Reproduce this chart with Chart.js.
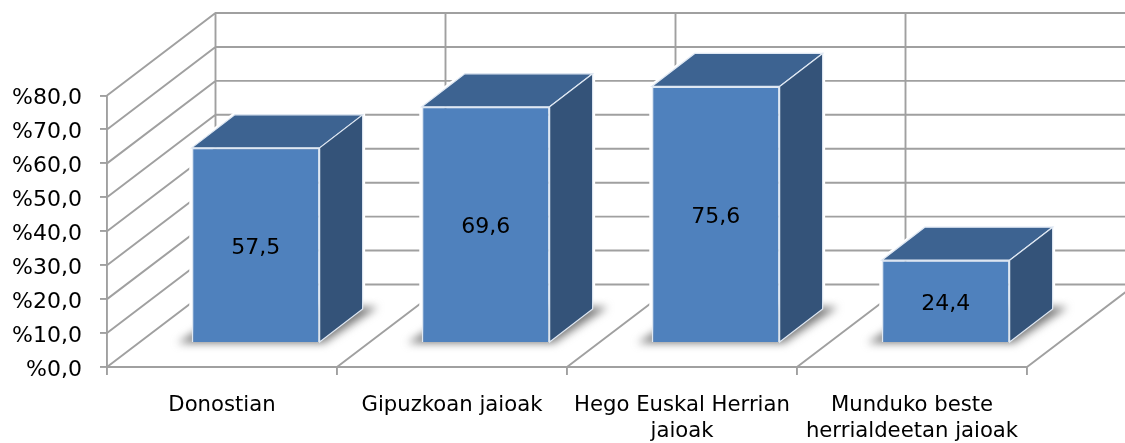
<!DOCTYPE html>
<html>
<head>
<meta charset="utf-8">
<script src="https://cdn.jsdelivr.net/npm/chart.js@4"></script>
<style>
body { margin: 0; background: #fff; }
canvas { display: block; }
</style>
</head>
<body>
<canvas id="grafico" width="1125" height="443"></canvas>
<script>
const categorias = [
    'Donostian',
    'Gipuzkoan jaioak',
    ['Hego Euskal Herrian', 'jaioak'],
    ['Munduko beste', 'herrialdeetan jaioak']
];
const valores = [57.5, 69.6, 75.6, 24.4];
const marcasY = [0, 10, 20, 30, 40, 50, 60, 70, 80];

const fuente = '"DejaVu Sans", Verdana, sans-serif';
const colorRejilla = '#a0a0a0';

// profundidad de la caja y de las barras, en px
const paredX = 108.5, paredY = -82.5;
const planoX = 33.7, planoY = -24;
const fondoX = 43, fondoY = -33;

const formato = v => v.toFixed(1).replace('.', ',');

function poligono(ctx, puntos) {
    ctx.beginPath();
    puntos.forEach((p, i) => i ? ctx.lineTo(p[0], p[1]) : ctx.moveTo(p[0], p[1]));
    ctx.closePath();
}

const caja3d = {
    id: 'caja3d',
    beforeDraw(chart) {
        // las etiquetas del eje y van un poco por debajo de su marca
        chart.scales.y.getLabelItems(chart.chartArea).forEach(it => {
            if (!it.movido) {
                it.options.translation[1] += 3;
                it.movido = true;
            }
        });
    },
    beforeDatasetsDraw(chart) {
        const { ctx, scales: { x, y } } = chart;
        const izq = x.left, der = x.right, cero = y.getPixelForValue(0);

        // paredes
        ctx.save();
        ctx.strokeStyle = colorRejilla;
        ctx.lineWidth = 1.9;
        ctx.beginPath();
        marcasY.forEach(v => {
            const py = y.getPixelForValue(v);
            ctx.moveTo(izq, py);
            ctx.lineTo(izq + paredX, py + paredY);
            ctx.lineTo(der + paredX, py + paredY);
        });
        // suelo y verticales del fondo
        for (let i = 0; i <= categorias.length; i++) {
            const px = izq + (der - izq) * i / categorias.length;
            ctx.moveTo(px, cero);
            ctx.lineTo(px + paredX, cero + paredY);
            ctx.lineTo(px + paredX, y.getPixelForValue(80) + paredY);
        }
        ctx.stroke();
        ctx.restore();

        // sombras y caras de las barras, desplazadas al plano de las barras
        const barras = chart.getDatasetMeta(0).data;
        ctx.save();
        ctx.translate(planoX, planoY);
        barras.forEach(b => {
            const l = b.x - b.width / 2, r = b.x + b.width / 2;
            ctx.strokeStyle = '#fff';
            ctx.lineWidth = 5;
            poligono(ctx, [[l, b.base], [l, b.y], [l + fondoX, b.y + fondoY], [r + fondoX, b.y + fondoY], [r + fondoX, b.base + fondoY], [r, b.base]]);
            ctx.stroke();
        });
        barras.forEach(b => {
            const l = b.x - b.width / 2, r = b.x + b.width / 2;
            ctx.save();
            ctx.filter = 'blur(4px)';
            ctx.fillStyle = '#7a7a7a';
            poligono(ctx, [[l - 14, b.base + 1], [r + 4, b.base + 1], [r + fondoX + 15, b.base + fondoY - 2], [l + fondoX, b.base + fondoY - 2]]);
            ctx.fill();
            ctx.restore();
        });
        barras.forEach(b => {
            const l = b.x - b.width / 2, r = b.x + b.width / 2;

            ctx.strokeStyle = '#dfe8f3';
            ctx.lineWidth = 1.2;
            ctx.fillStyle = '#3d6391';
            poligono(ctx, [[l, b.y], [l + fondoX, b.y + fondoY], [r + fondoX, b.y + fondoY], [r, b.y]]);
            ctx.fill();
            ctx.stroke();

            ctx.fillStyle = '#345379';
            poligono(ctx, [[r, b.y], [r + fondoX, b.y + fondoY], [r + fondoX, b.base + fondoY], [r, b.base]]);
            ctx.fill();
            ctx.stroke();
        });
        // queda trasladado para la cara frontal, se restaura en afterDatasetsDraw
    },
    afterDatasetsDraw(chart) {
        const { ctx } = chart;
        ctx.restore();
        ctx.save();
        ctx.fillStyle = '#000';
        ctx.font = '22px ' + fuente;
        ctx.textAlign = 'center';
        ctx.textBaseline = 'middle';
        chart.getDatasetMeta(0).data.forEach((b, i) => {
            ctx.fillText(formato(valores[i]), b.x + planoX, (b.y + b.base) / 2 + planoY + 3);
        });
        ctx.restore();
    }
};

new Chart(document.getElementById('grafico'), {
    type: 'bar',
    data: {
        labels: categorias,
        datasets: [{
            data: valores,
            backgroundColor: '#4f81bd',
            borderColor: '#dfe8f3',
            borderWidth: 1.5,
            barPercentage: 0.556,
            categoryPercentage: 1,
            clip: false
        }]
    },
    plugins: [caja3d],
    options: {
        responsive: false,
        animation: false,
        layout: { padding: { top: 95.5, right: 98, left: 0, bottom: 0 } },
        plugins: { legend: { display: false }, tooltip: { enabled: false } },
        scales: {
            x: {
                afterFit(s) { s.height = 76; },
                grid: { drawOnChartArea: false, color: colorRejilla, lineWidth: 1.9, tickLength: 8 },
                border: { color: colorRejilla, width: 1.9 },
                ticks: { color: '#000', font: { family: fuente, size: 21.2 }, maxRotation: 0, autoSkip: false, padding: 18 }
            },
            y: {
                min: 0,
                max: 80,
                afterFit(s) { s.width = 107; },
                afterBuildTicks(s) { s.ticks = marcasY.map(v => ({ value: v })); },
                grid: { drawOnChartArea: false, color: colorRejilla, lineWidth: 1.9, tickLength: 7 },
                border: { color: colorRejilla, width: 1.9 },
                ticks: { color: '#000', font: { family: fuente, size: 22 }, padding: 18, callback: v => '%' + formato(v) }
            }
        }
    }
});
</script>
</body>
</html>
